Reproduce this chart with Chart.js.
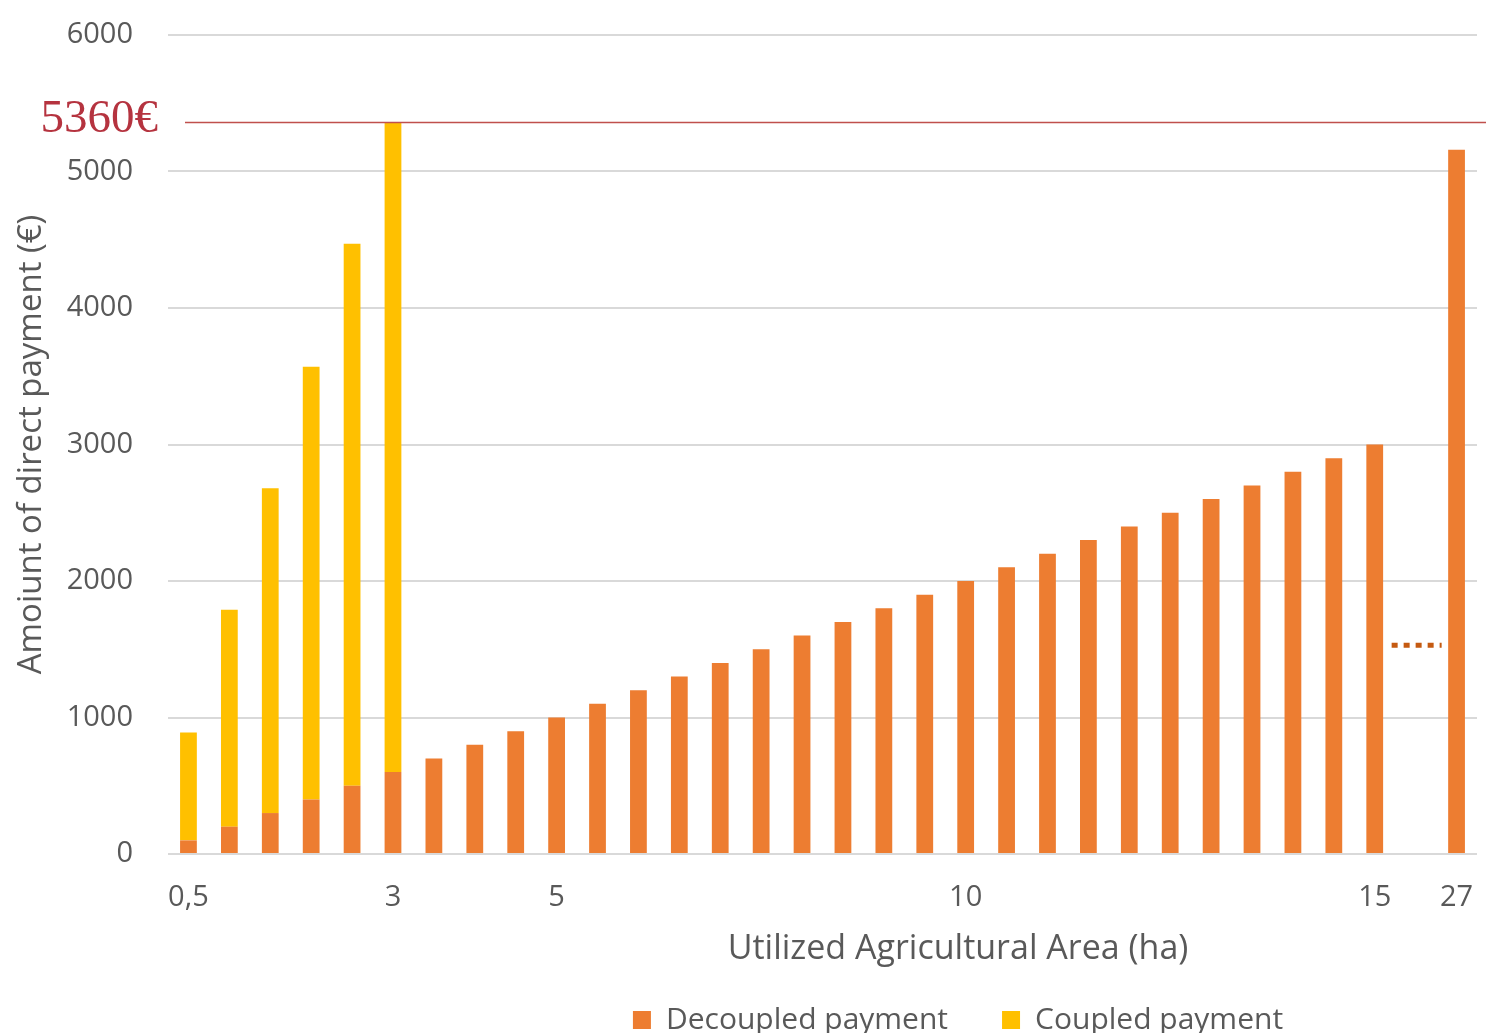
<!DOCTYPE html>
<html>
<head>
<meta charset="utf-8">
<script src="https://cdn.jsdelivr.net/npm/chart.js@4"></script>
<style>
  html, body { margin: 0; padding: 0; background: #fff; }
  #wrap { width: 1486px; height: 1033px; }
</style>
</head>
<body>
<div id="wrap"><canvas id="myChart"></canvas></div>
<script>
// direct payment by utilized agricultural area
var areas = ['0,5', '1', '1,5', '2', '2,5', '3', '3,5', '4', '4,5', '5',
             '5,5', '6', '6,5', '7', '7,5', '8', '8,5', '9', '9,5', '10',
             '10,5', '11', '11,5', '12', '12,5', '13', '13,5', '14', '14,5', '15',
             '', '27'];
var shownTicks = ['0,5', '3', '5', '10', '15', '27'];
var decoupled = [100, 200, 300, 400, 500, 600, 700, 800, 900, 1000,
                 1100, 1200, 1300, 1400, 1500, 1600, 1700, 1800, 1900, 2000,
                 2100, 2200, 2300, 2400, 2500, 2600, 2700, 2800, 2900, 3000,
                 null, 5160];
var coupled = [790, 1590, 2380, 3170, 3970, 4760, 0, 0, 0, 0,
               0, 0, 0, 0, 0, 0, 0, 0, 0, 0,
               0, 0, 0, 0, 0, 0, 0, 0, 0, 0,
               null, 0];
var maxPayment = 5360;
var gapValue = 1530;   // dotted "..." mark in the gap before 27 ha
var xTitle = 'Utilized Agricultural Area (ha)';

var textGrey = '#595959';
var font = 'Open Sans';
var titleCenter = 958;  // x title and legend sit right of the plot centre

// red limit line, dotted gap mark, x title
var marks = {
    id: 'marks',
    afterLayout: function (chart) {
        var lg = chart.legend;
        var dx = titleCenter - (lg.left + lg.right) / 2;
        lg.left += dx;
        lg.right += dx;
    },
    afterDatasetsDraw: function (chart) {
        var c = chart.ctx, x = chart.scales.x, y = chart.scales.y, a = chart.chartArea;
        var ly = Math.round(y.getPixelForValue(maxPayment)) + 0.5;
        c.save();
        c.strokeStyle = '#C0504D';
        c.lineWidth = 1.5;
        c.beginPath();
        c.moveTo(a.left + 17, ly);
        c.lineTo(chart.width, ly);
        c.stroke();
        c.fillStyle = '#B5333F';
        c.font = '47px "Liberation Serif"';
        c.textAlign = 'right';
        c.textBaseline = 'middle';
        c.fillText(maxPayment + '€', a.left - 10, ly - 3);

        var gx = x.getPixelForValue(30);
        var gy = y.getPixelForValue(gapValue);
        c.strokeStyle = '#C55A11';
        c.lineWidth = 5;
        c.setLineDash([6, 6]);
        c.beginPath();
        c.moveTo(gx - 24, gy);
        c.lineTo(gx + 26, gy);
        c.stroke();

        c.fillStyle = textGrey;
        c.font = '34px "' + font + '"';
        c.textAlign = 'center';
        c.fillText(xTitle, titleCenter, a.bottom + 95);
        c.restore();
    }
};

var ctx = document.getElementById('myChart').getContext('2d');
var myChart = new Chart(ctx, {
    type: 'bar',
    data: {
        labels: areas,
        datasets: [{
            label: 'Decoupled payment',
            data: decoupled,
            backgroundColor: '#ED7D31'
        }, {
            label: 'Coupled payment',
            data: coupled,
            backgroundColor: '#FFC000'
        }]
    },
    options: {
        responsive: true,
        maintainAspectRatio: false,
        animation: false,
        datasets: {
            bar: { barPercentage: 0.41, categoryPercentage: 1 }
        },
        layout: { padding: { left: 12, right: 9, top: 35, bottom: -12 } },
        scales: {
            x: {
                stacked: true,
                grid: { drawOnChartArea: false, tickLength: 22, tickColor: 'rgba(0,0,0,0)' },
                border: { display: false },
                afterFit: function (s) { s.height = 97; },
                ticks: {
                    autoSkip: false,
                    maxRotation: 0,
                    padding: 4,
                    color: textGrey,
                    font: { family: font, size: 29 },
                    callback: function (v) {
                        var l = this.getLabelForValue(v);
                        return shownTicks.indexOf(l) >= 0 ? l : '';
                    }
                }
            },
            y: {
                stacked: true,
                min: 0,
                max: 6000,
                grid: { color: '#D9D9D9', lineWidth: 2, tickLength: 31, tickColor: 'rgba(0,0,0,0)' },
                border: { display: false },
                afterFit: function (s) { s.width = 156; },
                ticks: {
                    stepSize: 1000,
                    padding: 4,
                    color: textGrey,
                    font: { family: font, size: 29 },
                    callback: function (v) { return String(v); }
                },
                title: {
                    display: true,
                    text: 'Amoiunt of direct payment (€)',
                    color: textGrey,
                    font: { family: font, size: 33 },
                    padding: { top: 0, bottom: 14 }
                }
            }
        },
        plugins: {
            legend: {
                position: 'bottom',
                labels: {
                    boxWidth: 18,
                    boxHeight: 18,
                    padding: 54,
                    color: textGrey,
                    font: { family: font, size: 30 }
                }
            },
            tooltip: { enabled: false }
        }
    },
    plugins: [marks]
});
</script>
</body>
</html>
